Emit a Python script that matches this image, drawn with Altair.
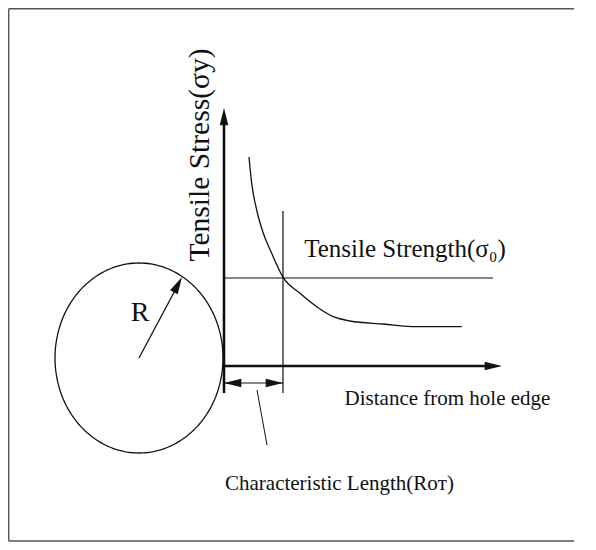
import altair as alt
import pandas as pd
import numpy as np

# ---- schematic data (units: origin at the hole edge on the distance axis) ----
curve_x = [2.5, 2.77, 3.27, 3.93, 4.77, 5.93, 7.6, 9.27, 10.93, 12.6, 15.93, 19.27, 23.77]
curve_y = [20.9, 18.27, 15.6, 13.27, 11.27, 8.83, 7.27, 5.93, 4.93, 4.5, 4.2, 3.93, 3.93]

strength_level = 8.8          # tensile strength sigma_0
char_length = 5.9             # characteristic length R_OT
hole_center = (-8.5, 0.8)
hole_radii = (8.4, 9.5)
radius_tip = (-4.2, 8.9)

y_axis_top = 25.8
x_axis_end = 27.8
strength_end = 26.9
char_line_top = 15.5
axis_bottom = -2.7
dim_level = -1.7
leader_from = (3.3, -2.4)
leader_to = (4.3, -7.9)

frame_left, frame_right = -21.53, 35.0
frame_bottom, frame_top = -17.5, 35.73

labels = ["Tensile Stress(σy)", "Tensile Strength(σ₀)", "Distance from hole edge",
          "Characteristic Length(Rᴏᴛ)", "R"]
label_x = [-2.4, 18.1, 22.35, 11.55, -8.4]
label_y = [21.1, 10.9, -3.9, -12.4, 5.3]

X_DOM = [-21.6, 36.4]
Y_DOM = [-17.6, 35.8]

# ---- build tables ----
rows = []
def seg(name, xs, ys, w):
    for i, (a, b) in enumerate(zip(xs, ys)):
        rows.append({"seg": name, "o": i, "x": a, "y": b, "w": w})

seg("y_axis", [0, 0], [axis_bottom, y_axis_top - 1.0], 2.6)
seg("x_axis", [0, x_axis_end - 1.0], [0, 0], 2.6)
seg("strength", [0, strength_end], [strength_level, strength_level], 1.2)
seg("char", [char_length, char_length], [axis_bottom, char_line_top], 1.2)
seg("dim", [0, char_length], [dim_level, dim_level], 1.2)
seg("leader", [leader_from[0], leader_to[0]], [leader_from[1], leader_to[1]], 1.0)
seg("radius", [hole_center[0], radius_tip[0] - 0.3], [hole_center[1], radius_tip[1] - 0.6], 1.3)
theta = np.linspace(0, 2 * np.pi, 181)
seg("hole", list(hole_center[0] + hole_radii[0] * np.cos(theta)),
    list(hole_center[1] + hole_radii[1] * np.sin(theta)), 1.3)
lines = pd.DataFrame(rows)

frame_h = pd.DataFrame({"y": [frame_top, frame_bottom],
                        "x": [frame_left, frame_left], "x2": [frame_right, frame_right]})
frame_v = pd.DataFrame({"x": [frame_left], "y": [frame_bottom], "y2": [frame_top]})

curve = pd.DataFrame({"x": curve_x, "y": curve_y})

rad_ang = float(np.degrees(np.arctan2(radius_tip[0] - hole_center[0], radius_tip[1] - hole_center[1])))
heads = pd.DataFrame({
    "x": [0, x_axis_end, 0, char_length, radius_tip[0]],
    "y": [y_axis_top, 0, dim_level, dim_level, radius_tip[1]],
    "ang": [0, 90, 270, 90, rad_ang],
})

xs = alt.Scale(domain=X_DOM, nice=False, zero=False)
ys = alt.Scale(domain=Y_DOM, nice=False, zero=False)
X = lambda f="x": alt.X(f"{f}:Q", scale=xs, axis=None)
Y = lambda f="y": alt.Y(f"{f}:Q", scale=ys, axis=None)

frame_h_layer = alt.Chart(frame_h).mark_rule(color="#555555", strokeWidth=1.4).encode(
    x=X(), x2="x2:Q", y=Y())
frame_v_layer = alt.Chart(frame_v).mark_rule(color="#555555", strokeWidth=1.4).encode(
    x=X(), y=Y(), y2="y2:Q")
line_layer = alt.Chart(lines).mark_line(color="#111111").encode(
    x=X(), y=Y(), detail="seg:N", order="o:Q",
    strokeWidth=alt.StrokeWidth("w:Q", scale=None),
)
curve_layer = alt.Chart(curve).mark_line(color="#111111", strokeWidth=1.3,
                                         interpolate="monotone").encode(x=X(), y=Y())
head_layer = alt.Chart(heads).mark_point(
    shape="M0,0 L0.5,2 L-0.5,2 Z", filled=True, color="#111111", opacity=1, size=300
).encode(x=X(), y=Y(), angle=alt.Angle("ang:Q", scale=None))

FONT = "Liberation Serif"
def text_layer(i, size, **kw):
    d = pd.DataFrame({"t": [labels[i]], "x": [label_x[i]], "y": [label_y[i]]})
    return alt.Chart(d).mark_text(fontSize=size, color="#111111", **kw).encode(
        x=X(), y=Y(), text="t:N")

texts = [
    text_layer(0, 29.5, font=FONT, angle=270, align="center", baseline="middle"),
    text_layer(1, 25, font=FONT, align="center", baseline="alphabetic"),
    text_layer(2, 21, font=FONT, align="center", baseline="alphabetic"),
    text_layer(3, 21, font=FONT, align="center", baseline="alphabetic"),
    text_layer(4, 28, font=FONT, align="center", baseline="middle"),
]

chart = alt.layer(frame_h_layer, frame_v_layer, line_layer, curve_layer, head_layer,
                  *texts).properties(
    width=580, height=534, autosize=alt.AutoSizeParams(type="none"), padding=0,
    background="white",
).configure_view(strokeWidth=0, strokeOpacity=0, fill="white")

chart.save("out.html", embed_options={"renderer": "svg", "actions": False})
